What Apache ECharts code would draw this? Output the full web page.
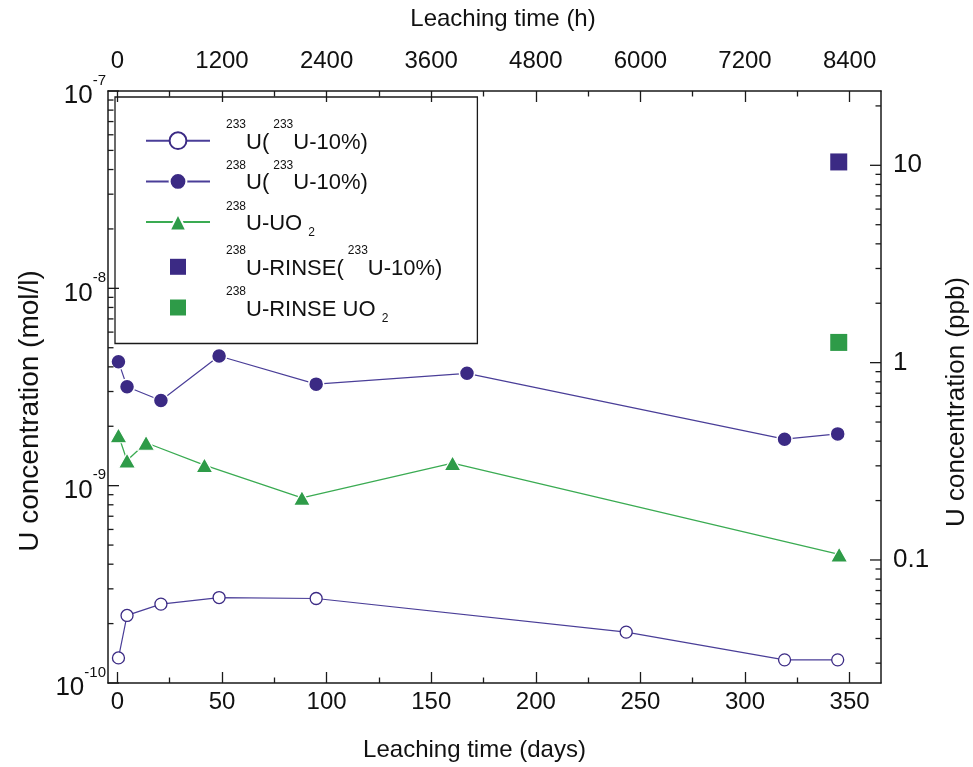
<!DOCTYPE html>
<html><head><meta charset="utf-8">
<script src="https://cdn.jsdelivr.net/npm/echarts@6/dist/echarts.min.js"></script>
<style>html,body{margin:0;padding:0;background:#fff}#c{width:973px;height:767px}</style>
</head><body><div id="c"></div>
<script>
// ---- data ----
const daysU233 = [0.5, 4.6, 20.8, 48.6, 95.0, 243.2, 318.9, 344.3];
const concU233 = [1.34e-10, 2.20e-10, 2.51e-10, 2.71e-10, 2.68e-10, 1.81e-10, 1.31e-10, 1.31e-10];
const daysU238 = [0.5, 4.6, 20.8, 48.6, 95.0, 167.1, 318.9, 344.3];
const concU238 = [4.25e-9, 3.17e-9, 2.70e-9, 4.54e-9, 3.27e-9, 3.71e-9, 1.72e-9, 1.83e-9];
const daysUO2 = [0.5, 4.6, 13.7, 41.6, 88.2, 160.2, 345.0];
const concUO2 = [1.80e-9, 1.34e-9, 1.65e-9, 1.27e-9, 8.67e-10, 1.30e-9, 4.48e-10];
const daysRinseU233 = [344.8];
const concRinseU233 = [4.37e-8];
const daysRinseUO2 = [344.8];
const concRinseUO2 = [5.32e-9];

// ---- axis ticks / labels ----
const dayTicks = [0, 50, 100, 150, 200, 250, 300, 350];
const dayMinorTicks = [25, 75, 125, 175, 225, 275, 325];
const hourTicks = [0, 1200, 2400, 3600, 4800, 6000, 7200, 8400];
const hourMinorTicks = [600, 1800, 3000, 4200, 5400, 6600, 7800];
const molTicks = [1e-10, 1e-9, 1e-8, 1e-7];
const molMinorTicks = [2e-10, 3e-10, 4e-10, 5e-10, 6e-10, 7e-10, 8e-10, 9e-10, 2e-9, 3e-9, 4e-9, 5e-9, 6e-9, 7e-9, 8e-9, 9e-9, 2e-8, 3e-8, 4e-8, 5e-8, 6e-8, 7e-8, 8e-8, 9e-8];
const ppbTicks = [0.1, 1, 10];
const ppbMinorTicks = [0.03, 0.04, 0.05, 0.06, 0.07, 0.08, 0.09, 0.2, 0.3, 0.4, 0.5, 0.6, 0.7, 0.8, 0.9, 2, 3, 4, 5, 6, 7, 8, 9, 20];
const molRange = [1e-10, 1e-7];
const ppbPerMol = 2.38e8; // 238 g/mol -> ug/L
const dayRange = [-4.5, 365];
const hoursPerDay = 24;

const legendText = {
  u233: '{s0|233}{m|U(}{s1|233}{m|U-10%)}',
  u238: '{s0|238}{m|U(}{s1|233}{m|U-10%)}',
  uo2: '{s0|238}{m|U-UO }{sub|2}',
  rinseU233: '{s0|238}{m|U-RINSE(}{s1|233}{m|U-10%)}',
  rinseUO2: '{s0|238}{m|U-RINSE UO }{sub|2}'
};

const FONT = 'Liberation Sans, Arial, Helvetica, sans-serif';
const BLUE = '#3b2a84';
const BLUE_LINE = '#4a3e98';
const GREEN = '#2e9b48';
const GREEN_LINE = '#3aab52';
const AX = '#1a1a1a';
const MAJOR = 11, MINOR = 5.5;

function pairs(xs, ys) { return xs.map((x, i) => [x, ys[i]]); }

// tick marks of the two log axes: [x at edge, value in mol/l, length, direction]
const logTickData = [].concat(
  molTicks.map(v => [dayRange[0], v, MAJOR, 1]),
  molMinorTicks.map(v => [dayRange[0], v, MINOR, 1]),
  ppbTicks.map(v => [dayRange[1], v / ppbPerMol, MAJOR, -1]),
  ppbMinorTicks.map(v => [dayRange[1], v / ppbPerMol, MINOR, -1])
);

const chart = echarts.init(document.getElementById('c'), null, {renderer: 'canvas'});

const axisLineStyle = {show: true, onZero: false, lineStyle: {color: AX, width: 1.5}};
const squareIcon = 'path://M0,0M21,21M2.5,2.5h16v16h-16z';

const option = {
  animation: false,
  backgroundColor: '#fff',
  grid: {left: 108, right: 92, top: 91, bottom: 84, outerBoundsMode: 'none', containLabel: false},
  legend: {
    orient: 'vertical',
    left: 115, top: 97,
    padding: [22, 35, 19, 30],
    itemGap: 6,
    itemWidth: 64, itemHeight: 21,
    borderColor: AX, borderWidth: 1.3,
    selectedMode: false,
    data: [
      {name: 'u233'}, {name: 'u238'}, {name: 'uo2'},
      {name: 'rinseU233', icon: squareIcon},
      {name: 'rinseUO2', icon: squareIcon}
    ],
    formatter: n => legendText[n],
    textStyle: {
      fontFamily: FONT, color: '#111',
      rich: {
        m: {fontSize: 22, fontFamily: FONT, color: '#111', verticalAlign: 'bottom', padding: [0, 0, 8.7, 0]},
        s0: {fontSize: 12, fontFamily: FONT, color: '#111', verticalAlign: 'top', padding: [0, 0, 31.4, 11]},
        s1: {fontSize: 12, fontFamily: FONT, color: '#111', verticalAlign: 'top', padding: [0, 0, 31.4, 4]},
        sub: {fontSize: 12, fontFamily: FONT, color: '#111', verticalAlign: 'bottom', padding: [0, 0, 4.7, 0]}
      }
    }
  },
  xAxis: [
    { // bottom: days
      type: 'value', position: 'bottom', min: dayRange[0], max: dayRange[1],
      axisLine: axisLineStyle, splitLine: {show: false},
      axisTick: {show: true, inside: true, length: MAJOR, customValues: dayTicks, lineStyle: {color: AX, width: 1.3}},
      axisLabel: {customValues: dayTicks, fontSize: 24, fontFamily: FONT, color: '#111', margin: 7, formatter: v => String(v)},
      name: 'Leaching time (days)', nameLocation: 'middle', nameGap: 55,
      nameTextStyle: {fontSize: 24, fontFamily: FONT, color: '#111', padding: [0, 40, 0, 0]}
    },
    { // bottom minor ticks
      type: 'value', position: 'bottom', min: dayRange[0], max: dayRange[1],
      axisLine: {show: false}, splitLine: {show: false}, axisLabel: {show: false},
      axisTick: {show: true, inside: true, length: MINOR, customValues: dayMinorTicks, lineStyle: {color: AX, width: 1.3}}
    },
    { // top: hours
      type: 'value', position: 'top', min: dayRange[0] * hoursPerDay, max: dayRange[1] * hoursPerDay,
      axisLine: axisLineStyle, splitLine: {show: false},
      axisTick: {show: true, inside: true, length: MAJOR, customValues: hourTicks, lineStyle: {color: AX, width: 1.3}},
      axisLabel: {customValues: hourTicks, fontSize: 24, fontFamily: FONT, color: '#111', margin: 18, formatter: v => String(v)},
      name: 'Leaching time (h)', nameLocation: 'middle', nameGap: 60,
      nameTextStyle: {fontSize: 24, fontFamily: FONT, color: '#111', padding: [0, 0, 0, 17]}
    },
    { // top minor ticks
      type: 'value', position: 'top', min: dayRange[0] * hoursPerDay, max: dayRange[1] * hoursPerDay,
      axisLine: {show: false}, splitLine: {show: false}, axisLabel: {show: false},
      axisTick: {show: true, inside: true, length: MINOR, customValues: hourMinorTicks, lineStyle: {color: AX, width: 1.3}}
    }
  ],
  yAxis: [
    { // left: mol/l
      type: 'log', logBase: 10, position: 'left', min: molRange[0], max: molRange[1],
      axisLine: axisLineStyle, splitLine: {show: false}, axisTick: {show: false},
      axisLabel: {
        margin: 2, color: '#111',
        formatter: v => '{b|10}{e|' + Math.round(Math.log10(v)) + '}',
        rich: {
          b: {fontSize: 26, fontFamily: FONT, color: '#111', verticalAlign: 'bottom'},
          e: {fontSize: 15, fontFamily: FONT, color: '#111', verticalAlign: 'top', padding: [0, 0, 21, 0]}
        }
      },
      name: 'U concentration (mol/l)', nameLocation: 'middle', nameGap: 62,
      nameTextStyle: {fontSize: 28, fontFamily: FONT, color: '#111', padding: [0, 48, 0, 0]}
    },
    { // right: ppb
      type: 'log', logBase: 10, position: 'right', min: molRange[0] * ppbPerMol, max: molRange[1] * ppbPerMol,
      axisLine: axisLineStyle, splitLine: {show: false}, axisTick: {show: false},
      axisLabel: {customValues: ppbTicks, margin: 12, fontSize: 26, fontFamily: FONT, color: '#111',
        formatter: v => String(+(+v).toPrecision(3))},
      name: 'U concentration (ppb)', nameLocation: 'middle', nameGap: 63, nameRotate: 90,
      nameTextStyle: {fontSize: 26, fontFamily: FONT, color: '#111', padding: [0, 30, 0, 0]}
    }
  ],
  series: [
    {
      name: 'logTicks', type: 'custom', xAxisIndex: 0, yAxisIndex: 0, silent: true, clip: false, z: 5,
      data: logTickData,
      renderItem: (params, api) => {
        const p = api.coord([api.value(0), api.value(1)]);
        const len = api.value(2), dir = api.value(3);
        return {type: 'line', shape: {x1: p[0], y1: p[1], x2: p[0] + dir * len, y2: p[1]},
          style: {stroke: AX, lineWidth: 1.3}};
      }
    },
    {
      name: 'u233', type: 'line', xAxisIndex: 0, yAxisIndex: 0,
      data: pairs(daysU233, concU233),
      symbol: 'circle', symbolSize: 12, showAllSymbol: true,
      itemStyle: {color: '#ffffff', borderColor: BLUE, borderWidth: 1.3},
      lineStyle: {color: BLUE_LINE, width: 1.2}, z: 3
    },
    {
      name: 'u238', type: 'line', xAxisIndex: 0, yAxisIndex: 0,
      data: pairs(daysU238, concU238),
      symbol: 'circle', symbolSize: 15, showAllSymbol: true,
      itemStyle: {color: BLUE, borderColor: '#ffffff', borderWidth: 1.5},
      lineStyle: {color: BLUE_LINE, width: 1.2}, z: 3
    },
    {
      name: 'uo2', type: 'line', xAxisIndex: 0, yAxisIndex: 0,
      data: pairs(daysUO2, concUO2),
      symbol: 'triangle', symbolSize: [17, 15], showAllSymbol: true,
      itemStyle: {color: GREEN, borderColor: '#ffffff', borderWidth: 1.2},
      lineStyle: {color: GREEN_LINE, width: 1.3}, z: 3
    },
    {
      name: 'rinseU233', type: 'scatter', xAxisIndex: 0, yAxisIndex: 0,
      data: pairs(daysRinseU233, concRinseU233),
      symbol: 'rect', symbolSize: 17, itemStyle: {color: BLUE, opacity: 1}
    },
    {
      name: 'rinseUO2', type: 'scatter', xAxisIndex: 0, yAxisIndex: 0,
      data: pairs(daysRinseUO2, concRinseUO2),
      symbol: 'rect', symbolSize: 17, itemStyle: {color: GREEN, opacity: 1}
    }
  ]
};
chart.setOption(option);
</script></body></html>
